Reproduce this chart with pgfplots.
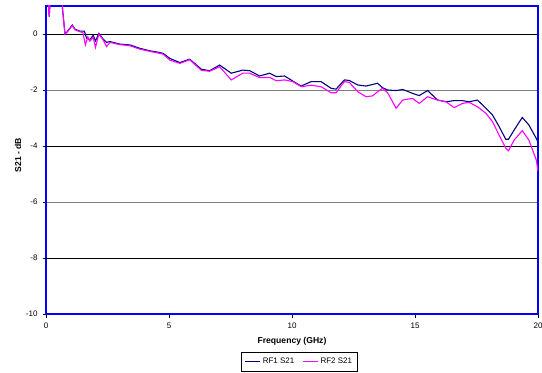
\documentclass[border=0pt]{standalone}
\usepackage{pgfplots}
\pgfplotsset{compat=1.18}
\usepackage{fontspec}
\setmainfont{Liberation Sans}
\definecolor{rfone}{RGB}{0,0,128}
\definecolor{rftwo}{RGB}{255,0,255}
\begin{document}
\begin{tikzpicture}
\begin{axis}[
 at={(0,0)}, anchor=south west,
 scale only axis, width=492bp, height=308bp,
 xmin=0, xmax=20, ymin=-10, ymax=1,
 xtick={0,5,10,15,20}, xticklabels={0,5,10,15,20},
 ytick={-10,-8,-6,-4,-2,0}, yticklabels={-10,-8,-6,-4,-2,0},
 xtick pos=bottom, ytick pos=left,
 tick align=outside, major tick length=3.5bp,
 axis line style={color=blue, line width=1.5bp},
 tick style={black, line width=0.6bp},
 ymajorgrids, major grid style={gray, line width=0.9bp},
 extra y ticks={-8,-4,0}, extra y tick labels={},
 extra y tick style={grid=major, major grid style={black, line width=0.9bp}},
 ticklabel style={font=\fontsize{8bp}{9.6bp}\selectfont},
 yticklabel style={xshift=-1.5bp},
 xticklabel style={yshift=-2bp},
 xlabel={Frequency (GHz)}, ylabel={S21 - dB},
 label style={font=\fontsize{8.6bp}{10bp}\selectfont\bfseries},
 xlabel style={at={(axis description cs:0.5,-0.088)}, anchor=center},
 ylabel style={at={(axis description cs:-0.057,0.516)}, anchor=center},
 legend style={at={(axis description cs:0.515,-0.123)}, anchor=north, legend columns=2,
   draw=black, line width=0.6bp, font=\fontsize{8bp}{9.6bp}\selectfont,
   inner xsep=3bp, inner ysep=4bp,
   /tikz/every even column/.append style={column sep=6bp}},
 legend image code/.code={\draw[#1, line width=1.2bp] (0bp,0bp) -- (15bp,0bp);},
]
\addplot[rfone, line width=1.1bp] coordinates {
(0.0,1.6) (0.08,1.4) (0.13,0.62) (0.18,1.3) (0.4,1.5) (0.62,1.4) (0.66,1.0)
(0.77,0.02) (0.84,0.06) (1.07,0.32) (1.18,0.17) (1.38,0.1) (1.56,0.1)
(1.65,-0.15) (1.78,-0.2) (1.92,-0.05) (2.01,-0.25) (2.15,0.02) (2.33,-0.19)
(2.46,-0.3) (2.6,-0.27) (3.0,-0.36) (3.41,-0.39) (3.81,-0.51) (4.22,-0.6)
(4.56,-0.65) (4.76,-0.69) (5.03,-0.87) (5.44,-1.02) (5.84,-0.9) (6.32,-1.26)
(6.65,-1.31) (7.06,-1.11) (7.53,-1.4) (8.0,-1.29) (8.28,-1.31) (8.68,-1.5)
(9.09,-1.4) (9.36,-1.52) (9.7,-1.5) (10.03,-1.68) (10.37,-1.86) (10.78,-1.7)
(11.18,-1.7) (11.59,-1.94) (11.79,-1.97) (12.13,-1.64) (12.33,-1.66)
(12.67,-1.82) (13.01,-1.86) (13.28,-1.8) (13.48,-1.76) (13.68,-1.92)
(13.89,-2.0) (14.23,-2.02) (14.5,-1.98) (14.9,-2.12) (15.17,-2.2)
(15.51,-2.02) (15.92,-2.36) (16.26,-2.42) (16.59,-2.38) (16.93,-2.38)
(17.2,-2.42) (17.54,-2.36) (17.88,-2.65) (18.15,-2.89) (18.42,-3.31)
(18.69,-3.76) (18.8,-3.76) (19.03,-3.43) (19.36,-2.98) (19.63,-3.25)
(19.93,-3.73) (20.0,-3.85)
};
\addlegendentry{RF1 S21}
\addplot[rftwo, line width=1.1bp] coordinates {
(0.0,1.6) (0.08,1.4) (0.13,0.62) (0.18,1.3) (0.4,1.5) (0.62,1.4) (0.66,1.0)
(0.77,0.0) (0.84,0.04) (1.07,0.3) (1.18,0.15) (1.38,0.08) (1.5,0.05)
(1.6,-0.39) (1.7,-0.1) (1.78,-0.25) (1.92,-0.12) (2.01,-0.48) (2.15,0.0)
(2.33,-0.22) (2.46,-0.45) (2.6,-0.3) (3.0,-0.38) (3.41,-0.42) (3.81,-0.54)
(4.22,-0.62) (4.56,-0.68) (4.76,-0.72) (5.03,-0.93) (5.44,-1.05) (5.84,-0.92)
(6.32,-1.3) (6.65,-1.33) (7.06,-1.17) (7.53,-1.64) (8.0,-1.4) (8.28,-1.4)
(8.68,-1.56) (9.09,-1.55) (9.36,-1.67) (9.7,-1.64) (10.03,-1.7) (10.37,-1.88)
(10.78,-1.83) (11.18,-1.88) (11.59,-2.1) (11.79,-2.1) (12.13,-1.7)
(12.33,-1.73) (12.67,-2.06) (13.01,-2.24) (13.28,-2.21) (13.48,-2.06)
(13.68,-1.94) (13.89,-2.1) (14.23,-2.65) (14.5,-2.36) (14.9,-2.3)
(15.17,-2.48) (15.51,-2.24) (15.92,-2.36) (16.26,-2.42) (16.59,-2.63)
(16.93,-2.48) (17.2,-2.44) (17.54,-2.6) (17.88,-2.83) (18.15,-3.13)
(18.42,-3.61) (18.69,-4.08) (18.8,-4.17) (19.03,-3.79) (19.36,-3.45)
(19.63,-3.79) (19.93,-4.5) (20.0,-4.9)
};
\addlegendentry{RF2 S21}
\end{axis}
\pgfresetboundingbox
\useasboundingbox (-46bp,-59bp) rectangle (496bp,314bp);
\end{tikzpicture}
\end{document}
